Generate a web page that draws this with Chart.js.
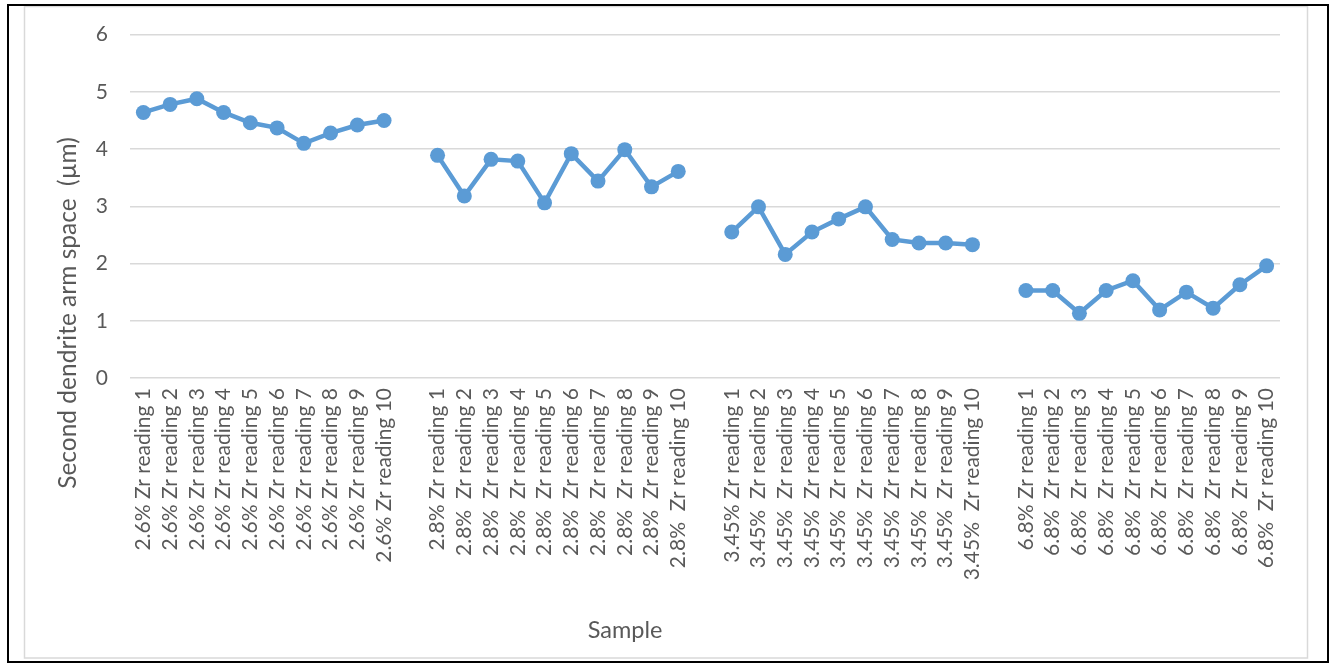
<!DOCTYPE html>
<html>
<head>
<meta charset="utf-8">
<script src="https://cdn.jsdelivr.net/npm/chart.js@4/dist/chart.umd.min.js"></script>
<style>
  html, body { margin: 0; padding: 0; background: #fff; }
  #wrap { width: 1332px; height: 664px; }
</style>
</head>
<body>
<div id="wrap"><canvas id="dendriteChart"></canvas></div>
<script>
    // ------------------------------ data ------------------------------
    var zr26Labels = ['2.6% Zr reading 1', '2.6% Zr reading 2', '2.6% Zr reading 3', '2.6% Zr reading 4', '2.6% Zr reading 5',
        '2.6% Zr reading 6', '2.6% Zr reading 7', '2.6% Zr reading 8', '2.6% Zr reading 9', '2.6% Zr reading 10'];
    var zr28Labels = ['2.8% Zr reading 1', '2.8%  Zr reading 2', '2.8%  Zr reading 3', '2.8%  Zr reading 4', '2.8%  Zr reading 5',
        '2.8%  Zr reading 6', '2.8%  Zr reading 7', '2.8%  Zr reading 8', '2.8%  Zr reading 9', '2.8%  Zr reading 10'];
    var zr345Labels = ['3.45% Zr reading 1', '3.45%  Zr reading 2', '3.45%  Zr reading 3', '3.45%  Zr reading 4', '3.45%  Zr reading 5',
        '3.45%  Zr reading 6', '3.45%  Zr reading 7', '3.45%  Zr reading 8', '3.45%  Zr reading 9', '3.45%  Zr reading 10'];
    var zr68Labels = ['6.8% Zr reading 1', '6.8%  Zr reading 2', '6.8%  Zr reading 3', '6.8%  Zr reading 4', '6.8%  Zr reading 5',
        '6.8%  Zr reading 6', '6.8%  Zr reading 7', '6.8%  Zr reading 8', '6.8%  Zr reading 9', '6.8%  Zr reading 10'];

    var zr26 = [4.64, 4.78, 4.88, 4.64, 4.46, 4.37, 4.10, 4.28, 4.42, 4.50];
    var zr28 = [3.89, 3.18, 3.82, 3.79, 3.06, 3.92, 3.44, 3.99, 3.34, 3.61];
    var zr345 = [2.55, 2.99, 2.16, 2.55, 2.78, 2.99, 2.42, 2.36, 2.36, 2.33];
    var zr68 = [1.53, 1.53, 1.13, 1.53, 1.70, 1.19, 1.50, 1.22, 1.63, 1.96];

    var yTicks = [0, 1, 2, 3, 4, 5, 6];
    var yTitle = 'Second dendrite arm space  (\u00b5m)';
    var xTitle = 'Sample';

    var fontFam = "Lato, 'Open Sans', sans-serif";
    var textColor = '#595959';

    // one empty category between the groups, like the original sheet
    var labels = [];
    var values = [];
    var groupLabels = [zr26Labels, zr28Labels, zr345Labels, zr68Labels];
    var groupValues = [zr26, zr28, zr345, zr68];
    for (var g = 0; g < groupLabels.length; g++) {
        if (g > 0) { labels.push(''); values.push(null); }
        for (var r = 0; r < groupLabels[g].length; r++) {
            labels.push(groupLabels[g][r]);
            values.push(groupValues[g][r]);
        }
    }

    // frame + axis titles
    var framePlugin = {
        id: 'frame',
        beforeDraw: function (chart) {
            var ctx = chart.ctx;
            ctx.save();
            ctx.fillStyle = '#fff';
            ctx.fillRect(0, 0, chart.width, chart.height);
            ctx.strokeStyle = '#d9d9d9';
            ctx.lineWidth = 1.5;
            ctx.strokeRect(24.5, 6.5, 1283, 651.5);
            ctx.strokeStyle = '#000';
            ctx.lineWidth = 2;
            ctx.strokeRect(8, 5, 1320, 657);
            ctx.restore();
        },
        afterDraw: function (chart) {
            var ctx = chart.ctx;
            ctx.save();
            ctx.fillStyle = textColor;
            ctx.textAlign = 'center';
            ctx.textBaseline = 'middle';
            ctx.font = "23.5px " + fontFam;
            ctx.fillText(xTitle, 625, 630);
            ctx.font = "24.5px " + fontFam;
            ctx.translate(68, 313);
            ctx.rotate(-Math.PI / 2);
            ctx.fillText(yTitle, 0, 0);
            ctx.restore();
        }
    };

    var ctx = document.getElementById('dendriteChart').getContext('2d');
    var chart = new Chart(ctx, {
        type: 'line',
        data: {
            labels: labels,
            datasets: [{
                data: values,
                borderColor: '#5b9bd5',
                backgroundColor: '#5b9bd5',
                borderWidth: 4.5,
                pointRadius: 7.5,
                pointBorderWidth: 0,
                pointHoverRadius: 7.5,
                spanGaps: false,
                tension: 0
            }]
        },
        options: {
            responsive: true,
            maintainAspectRatio: false,
            animation: false,
            layout: { padding: { top: 34, right: 52, bottom: 0, left: 0 } },
            plugins: {
                legend: { display: false },
                tooltip: { enabled: false }
            },
            scales: {
                x: {
                    type: 'category',
                    offset: true,
                    grid: { display: false, drawTicks: false },
                    border: { display: false },
                    ticks: {
                        autoSkip: false,
                        minRotation: 90,
                        maxRotation: 90,
                        padding: 10,
                        color: textColor,
                        font: { family: fontFam, size: 21 }
                    },
                    afterFit: function (scale) { scale.height = 286; }
                },
                y: {
                    min: 0,
                    max: 6,
                    afterBuildTicks: function (scale) {
                        scale.ticks = yTicks.map(function (v) { return { value: v }; });
                    },
                    grid: { color: '#d9d9d9', lineWidth: 1.5, drawTicks: false },
                    border: { display: false },
                    ticks: {
                        padding: 22,
                        color: textColor,
                        font: { family: fontFam, size: 21 }
                    },
                    afterFit: function (scale) { scale.width = 130; }
                }
            }
        },
        plugins: [framePlugin]
    });
</script>
</body>
</html>
